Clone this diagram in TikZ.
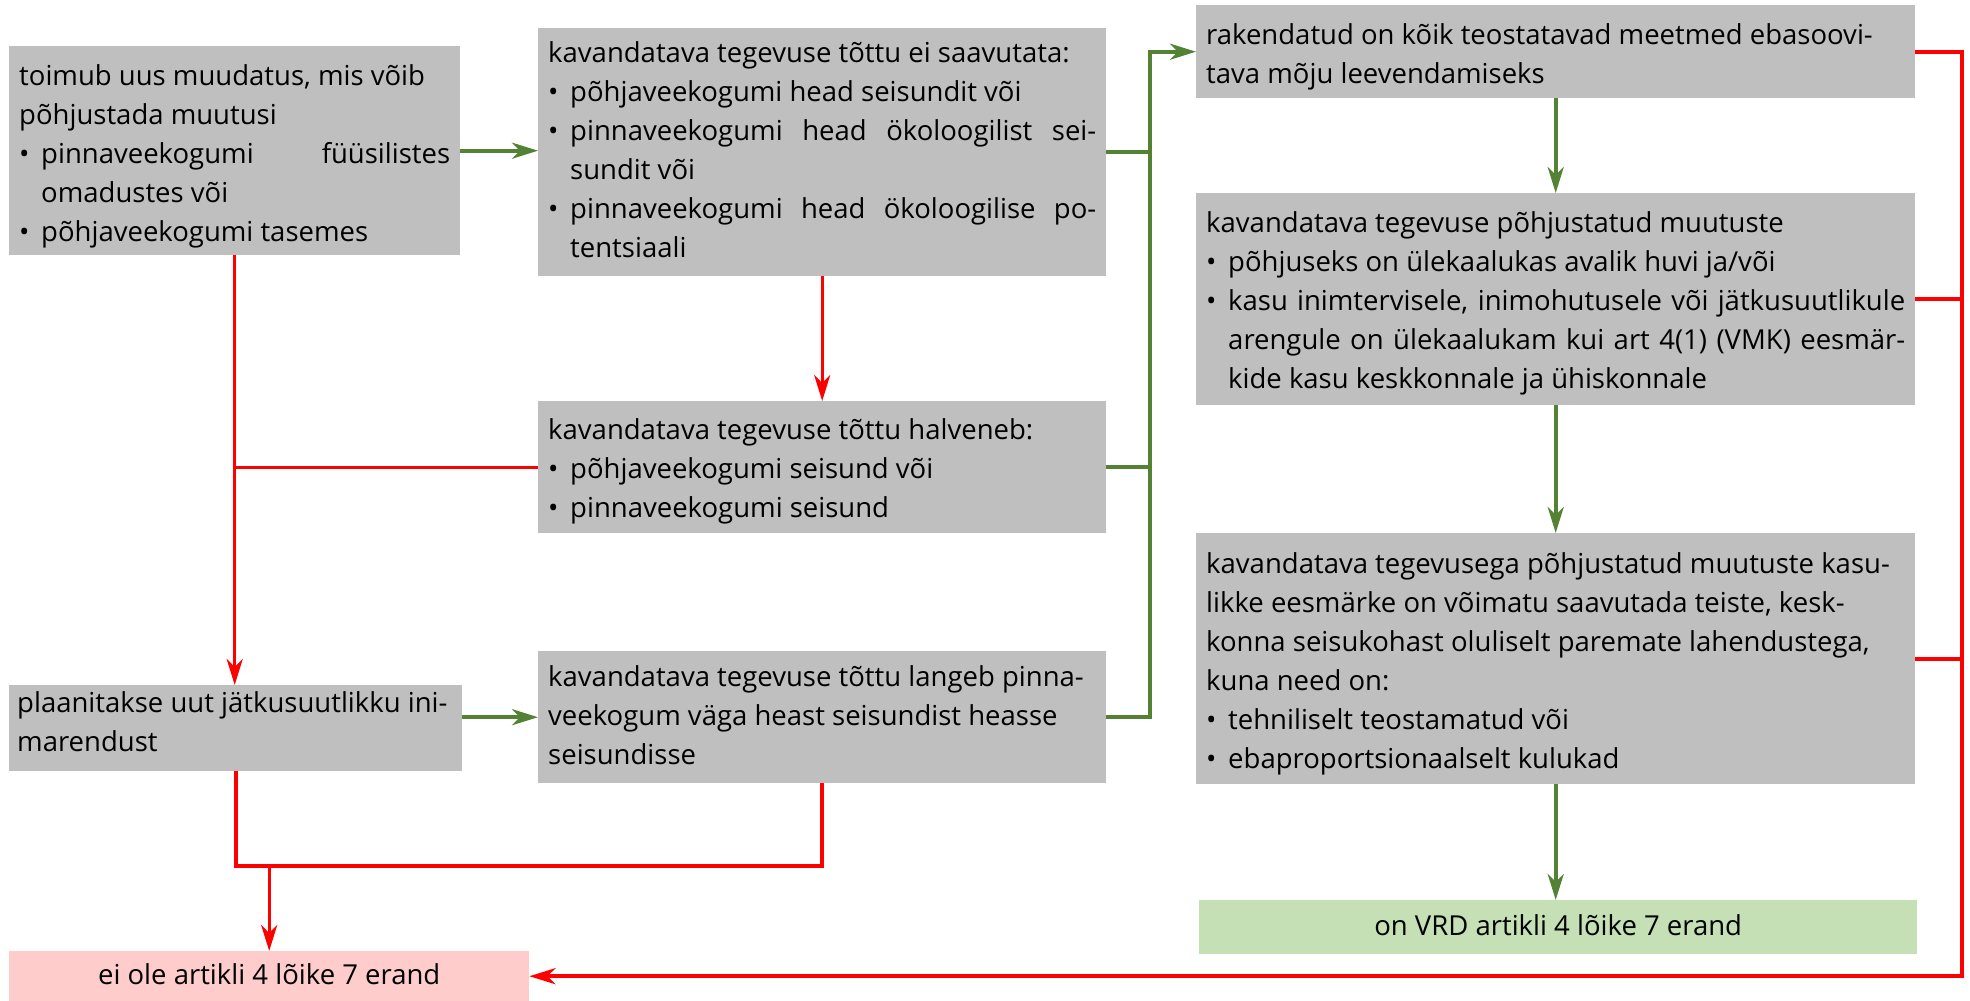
\documentclass[tikz,border=0pt]{standalone}
\usepackage{fontspec}
\setmainfont{Open Sans}
\usetikzlibrary{arrows.meta}
\definecolor{boxgray}{HTML}{BFBFBF}
\definecolor{arrgreen}{HTML}{548235}
\definecolor{arrred}{HTML}{FF0000}
\definecolor{okgreen}{HTML}{C5E0B4}
\definecolor{nopink}{HTML}{FFCCCC}
\newcommand\bul[1]{\makebox[22pt][l]{•}#1}
\newcommand\cont[1]{\hspace*{22pt}#1}
\newcommand\jline[2]{\makebox[#1][s]{#2}}
\newcommand\st{\spaceskip=0pt\xspaceskip=0pt\relax\strut}
\newcommand\stt[1]{\spaceskip=0pt\xspaceskip=0pt\relax\rule{0pt}{#1}}
\begin{document}
\begin{tikzpicture}[x=1pt,y=-1pt,
  font=\fontsize{27.5}{39}\selectfont,
  box/.style={fill=boxgray, draw=none, inner xsep=10pt, inner ysep=0pt, anchor=north west, align=flush left},
  endbox/.style={draw=none, inner xsep=10pt, inner ysep=0pt, anchor=north west, align=flush center},
  gline/.style={draw=arrgreen, line width=4pt},
  rline/.style={draw=arrred, line width=4pt},
  rthin/.style={draw=arrred, line width=3.4pt},
  tipa/.style={-{Stealth[length=26pt,width=16pt,inset=8pt]}}
]
\useasboundingbox (0,0) rectangle (1970,1001);
\fill[white] (0,0) rectangle (1970,1001);

\node[box, minimum width=451pt, minimum height=209pt, text width=431pt] (A) at (9,46) {\stt{37.3pt}%
toimub uus muudatus, mis võib\\
põhjustada muutusi\\
\bul{\jline{409pt}{pinnaveekogumi füüsilistes}}\\
\cont{omadustes või}\\
\bul{põhjaveekogumi tasemes}\strut};

\node[box, minimum width=568pt, minimum height=248pt, text width=548pt] (B) at (538,28) {\st
kavandatava tegevuse tõttu ei saavutata:\\
\bul{põhjaveekogumi head seisundit või}\\
\bul{\jline{526pt}{pinnaveekogumi head ökoloogilist sei-}}\\
\cont{sundit või}\\
\bul{\jline{526pt}{pinnaveekogumi head ökoloogilise po-}}\\
\cont{tentsiaali}\strut};

\node[box, minimum width=568pt, minimum height=132pt, text width=548pt] (C) at (538,401) {\stt{33.3pt}%
kavandatava tegevuse tõttu halveneb:\\
\bul{põhjaveekogumi seisund või}\\
\bul{pinnaveekogumi seisund}\strut};

\node[box, inner xsep=8pt, minimum width=453pt, minimum height=78pt, text width=437pt] (D) at (9,685) {\st
\mbox{plaanitakse uut jätkusuutlikku ini-}\\
marendust\rule[-19.7pt]{0pt}{19.7pt}};

\node[box, minimum width=568pt, minimum height=132pt, text width=548pt] (E) at (538,651) {\st
\mbox{kavandatava tegevuse tõttu langeb pinna-}\\
veekogum väga heast seisundist heasse\\
seisundisse\strut};

\node[box, minimum width=719pt, minimum height=93pt, text width=699pt] (F) at (1196,5) {\stt{35.3pt}%
\mbox{rakendatud on kõik teostatavad meetmed ebasoovi-}\\
tava mõju leevendamiseks\strut};

\node[box, minimum width=719pt, minimum height=212pt, text width=699pt] (G) at (1196,193) {\stt{33.3pt}%
kavandatava tegevuse põhjustatud muutuste\\
\bul{põhjuseks on ülekaalukas avalik huvi ja/või}\\
\bul{\jline{677pt}{kasu inimtervisele, inimohutusele või jätkusuutlikule}}\\
\cont{\jline{677pt}{arengule on ülekaalukam kui art 4(1) (VMK) eesmär-}}\\
\cont{kide kasu keskkonnale ja ühiskonnale}\strut};

\node[box, minimum width=719pt, minimum height=251pt, text width=699pt] (H) at (1196,533) {\stt{35.3pt}%
\mbox{kavandatava tegevusega põhjustatud muutuste kasu-}\\
\mbox{likke eesmärke on võimatu saavutada teiste, kesk-}\\
\mbox{konna seisukohast oluliselt paremate lahendustega,}\\
kuna need on:\\
\bul{tehniliselt teostamatud või}\\
\bul{ebaproportsionaalselt kulukad}\strut};

\node[endbox, fill=okgreen, minimum width=718pt, minimum height=54pt, text width=698pt] (I) at (1199,900) {\st on VRD artikli 4 lõike 7 erand};

\node[endbox, fill=nopink, minimum width=520pt, minimum height=50pt, text width=500pt] (J) at (9,951) {\st ei ole artikli 4 lõike 7 erand};

% green connectors
\coordinate (gb) at (1150,0);
\draw[gline, tipa] (A.east) -- (A.east -| B.west);
\draw[gline, tipa] (D.east |- E.west) -- (E.west);
\draw[gline] (B.east) -- (B.east -| gb);
\draw[gline] (C.east) -- (C.east -| gb);
\draw[gline, tipa] (E.east) -- (E.east -| gb) |- (F.west);
\draw[gline, tipa] (F.south) -- (G.north);
\draw[gline, tipa] (G.south) -- (H.north);
\draw[gline, tipa] (H.south) -- (H.south |- I.north);

% red connectors
\coordinate (rj) at (268,866);
\coordinate (rb) at (1962,0);
\draw[rthin, tipa] (A.south) -- (A.south |- D.north);
\draw[rthin, tipa] (B.south) -- (C.north);
\draw[rthin] (C.west) -- (C.west -| A.south);
\draw[rline] (D.south) |- (rj -| E.south) -- (E.south);
\draw[rthin, tipa] (J.north |- rj) -- (J.north);
\draw[rline, tipa] (F.east) -| (rb |- J.east) -- (J.east);
\draw[rline] (G.east) -- (G.east -| rb);
\draw[rline] (H.east) -- (H.east -| rb);
\end{tikzpicture}
\end{document}
